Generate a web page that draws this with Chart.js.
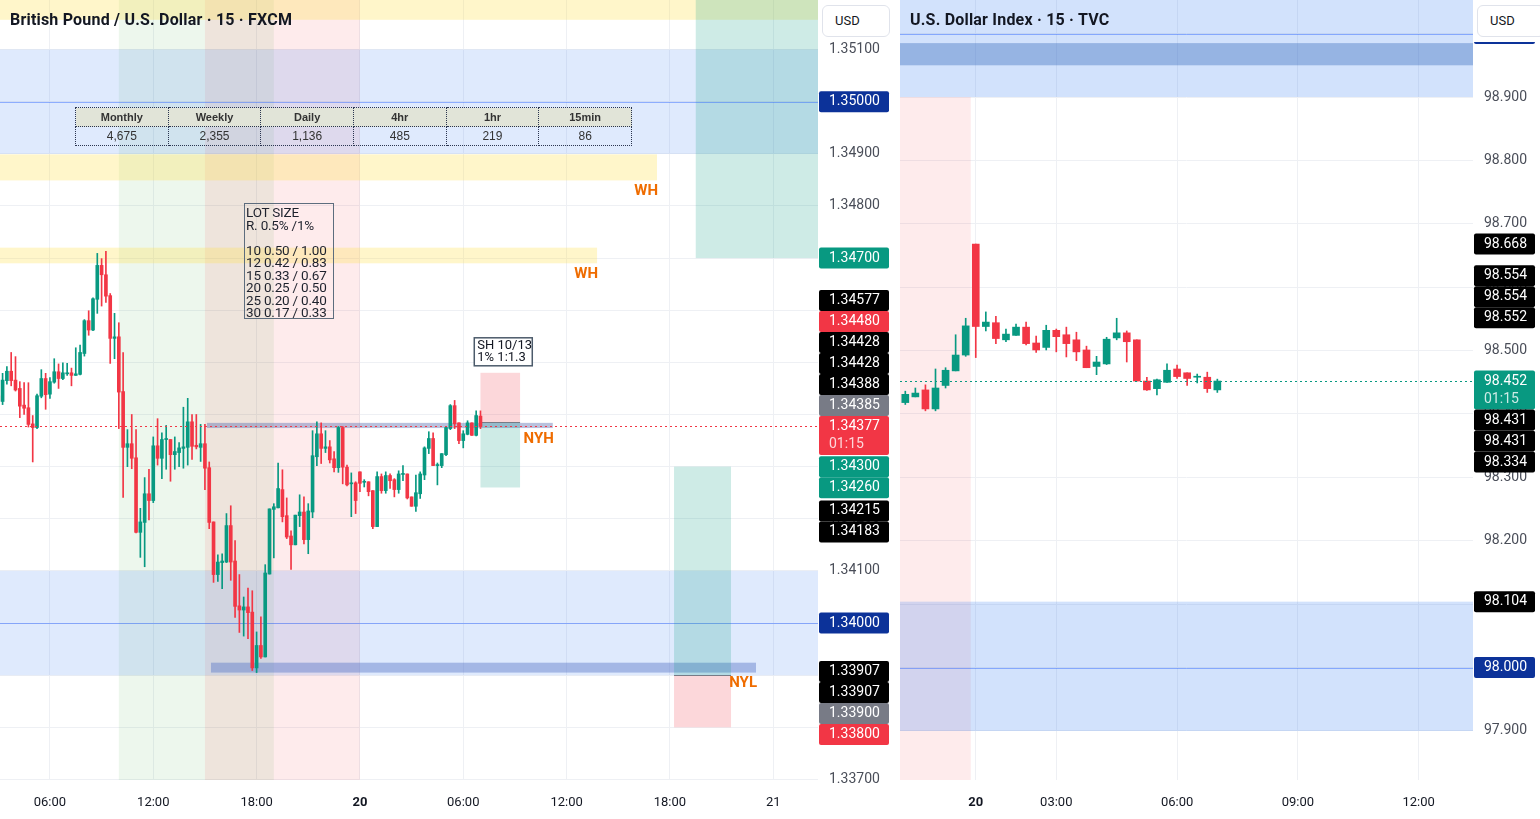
<!DOCTYPE html>
<html>
<head>
<meta charset="utf-8">
<script src="https://cdn.jsdelivr.net/npm/chart.js@4/dist/chart.umd.min.js"></script>
<style>
  body { margin:0; background:#fff; width:1540px; height:819px; overflow:hidden; position:relative; font-family:Roboto, 'Liberation Sans', sans-serif; }
  canvas { position:absolute; top:0; }
  #gbp { left:0; }
  #dxy { left:900px; }
  .ttl { position:absolute; top:10px; font-weight:bold; font-size:16px; letter-spacing:0.2px; color:#131722; white-space:nowrap; }
  .usd { position:absolute; top:5px; height:30px; line-height:30px; width:54px; padding-left:12px; border:1px solid #E0E3EB; border-radius:6px; background:#fff; font-size:13px; color:#131722; }
  #axhead { position:absolute; left:1474px; top:0; width:66px; height:42px; background:#fff; }
  #tf { position:absolute; left:75px; top:107px; width:557px; border-collapse:collapse; table-layout:fixed; font-family:'Liberation Sans', Arial, sans-serif; color:#333; }
  #tf td { height:18px; border:1px dotted #2a3550; text-align:center; padding:0; font-size:12px; }
  #tf tr:first-child td { background:#E1E4D8; font-weight:bold; font-size:11px; }
  #lot { position:absolute; left:244px; top:203px; width:87px; height:112px; border:1px solid #5d6d7e; font-size:13.5px; line-height:12.5px; color:#1e222d; padding:2px 0 0 1px; white-space:pre; letter-spacing:-0.2px; }
</style>
</head>
<body>
<canvas id="gbp" width="900" height="819"></canvas>
<canvas id="dxy" width="640" height="819"></canvas>
<div id="axhead"></div>
<div class="ttl" style="left:10px">British Pound / U.S. Dollar · 15 · FXCM</div>
<div class="ttl" style="left:910px">U.S. Dollar Index · 15 · TVC</div>
<div class="usd" style="left:822px">USD</div>
<div class="usd" style="left:1477px">USD</div>
<table id="tf"></table>
<div id="lot"></div>
<script>
// ---- GBPUSD 15m, first bar 19th 03:00 ----
const gbpFirstHour = 3;
const gbpOpen = [1.34436,1.34425,1.34465,1.34483,1.34466,1.34450,1.34418,1.34413,1.34382,1.34375,
1.34435,1.34469,1.34439,1.34462,1.34482,1.34469,1.34478,1.34480,1.34475,1.34477,
1.34517,1.34580,1.34562,1.34621,1.34686,1.34668,1.34628,1.34546,1.34549,1.34444,
1.34337,1.34344,1.34317,1.34174,1.34193,1.34248,1.34235,1.34340,1.34316,1.34352,
1.34352,1.34323,1.34327,1.34335,1.34337,1.34386,1.34341,1.34337,1.34344,1.34298,
1.34194,1.34093,1.34116,1.34117,1.34187,1.34119,1.34033,1.34025,1.34031,1.34021,
1.33914,1.33957,1.33935,1.34094,1.34218,1.34221,1.34256,1.34206,1.34167,1.34150,
1.34206,1.34213,1.34160,1.34213,1.34319,1.34363,1.34335,1.34338,1.34315,1.34298,
1.34375,1.34299,1.34267,1.34269,1.34290,1.34270,1.34271,1.34254,1.34185,1.34281,
1.34254,1.34283,1.34275,1.34256,1.34285,1.34286,1.34242,1.34224,1.34248,1.34284,
1.34335,1.34354,1.34302,1.34302,1.34323,1.34373,1.34417,1.34384,1.34350,1.34362,
1.34384,1.34360,1.34397];
const gbpHigh = [1.34441,1.34479,1.34492,1.34519,1.34511,1.34463,1.34461,1.34461,1.34398,1.34439,
1.34486,1.34479,1.34471,1.34507,1.34497,1.34499,1.34498,1.34489,1.34528,1.34533,
1.34582,1.34599,1.34624,1.34709,1.34699,1.34713,1.34632,1.34594,1.34576,1.34519,
1.34371,1.34400,1.34371,1.34220,1.34279,1.34295,1.34357,1.34392,1.34365,1.34379,
1.34352,1.34357,1.34346,1.34414,1.34431,1.34400,1.34400,1.34381,1.34381,1.34309,
1.34194,1.34131,1.34133,1.34210,1.34225,1.34158,1.34093,1.34050,1.34067,1.34062,
1.33983,1.34012,1.34112,1.34219,1.34229,1.34307,1.34294,1.34240,1.34177,1.34207,
1.34246,1.34242,1.34229,1.34369,1.34386,1.34384,1.34369,1.34350,1.34329,1.34377,
1.34377,1.34303,1.34288,1.34271,1.34290,1.34275,1.34271,1.34254,1.34290,1.34286,
1.34290,1.34286,1.34277,1.34292,1.34302,1.34286,1.34242,1.34284,1.34290,1.34338,
1.34367,1.34365,1.34307,1.34325,1.34377,1.34419,1.34427,1.34384,1.34369,1.34388,
1.34384,1.34407,1.34407];
const gbpLow = [1.34421,1.34419,1.34458,1.34455,1.34445,1.34394,1.34400,1.34376,1.34309,1.34373,
1.34432,1.34410,1.34431,1.34460,1.34450,1.34467,1.34475,1.34455,1.34475,1.34476,
1.34512,1.34552,1.34561,1.34594,1.34608,1.34615,1.34498,1.34507,1.34373,1.34241,
1.34300,1.34296,1.34173,1.34126,1.34108,1.34198,1.34231,1.34303,1.34277,1.34295,
1.34272,1.34295,1.34300,1.34297,1.34303,1.34314,1.34334,1.34310,1.34256,1.34181,
1.34078,1.34080,1.34066,1.34116,1.34082,1.34011,1.33982,1.33975,1.33970,1.33909,
1.33905,1.33932,1.33935,1.34094,1.34125,1.34221,1.34194,1.34162,1.34103,1.34150,
1.34185,1.34152,1.34133,1.34202,1.34302,1.34306,1.34327,1.34307,1.34290,1.34289,
1.34267,1.34263,1.34204,1.34210,1.34252,1.34261,1.34244,1.34181,1.34185,1.34249,
1.34249,1.34258,1.34242,1.34249,1.34273,1.34238,1.34224,1.34214,1.34239,1.34275,
1.34325,1.34302,1.34265,1.34298,1.34321,1.34371,1.34373,1.34344,1.34336,1.34361,
1.34360,1.34359,1.34373];
const gbpClose = [1.34426,1.34466,1.34483,1.34465,1.34447,1.34416,1.34412,1.34381,1.34375,1.34436,
1.34469,1.34438,1.34463,1.34482,1.34469,1.34480,1.34480,1.34475,1.34478,1.34519,
1.34580,1.34562,1.34622,1.34686,1.34668,1.34627,1.34546,1.34549,1.34443,1.34337,
1.34344,1.34316,1.34174,1.34194,1.34248,1.34235,1.34340,1.34316,1.34352,1.34353,
1.34323,1.34329,1.34336,1.34338,1.34386,1.34339,1.34338,1.34344,1.34297,1.34193,
1.34093,1.34117,1.34119,1.34187,1.34117,1.34032,1.34025,1.34031,1.34020,1.33914,
1.33957,1.33935,1.34096,1.34219,1.34223,1.34258,1.34204,1.34165,1.34150,1.34207,
1.34213,1.34160,1.34215,1.34321,1.34363,1.34335,1.34338,1.34313,1.34298,1.34375,
1.34299,1.34265,1.34269,1.34235,1.34268,1.34271,1.34252,1.34185,1.34281,1.34254,
1.34283,1.34273,1.34256,1.34286,1.34287,1.34240,1.34224,1.34250,1.34286,1.34336,
1.34354,1.34302,1.34304,1.34325,1.34375,1.34417,1.34382,1.34350,1.34363,1.34384,
1.34360,1.34398,1.34377];
const gbpTickHours = [6, 12, 18, 24, 30, 36, 42, 48];
const gbpTickLabels = ['06:00','12:00','18:00','20','06:00','12:00','18:00','21'];
const gbpPriceTicks = [1.337,1.338,1.339,1.340,1.341,1.342,1.343,1.344,1.345,1.346,1.347,1.348,1.349,1.350,1.351];
const gbpBadgePrices = [1.35000,1.34700,1.34577,1.34480,1.34428,1.34428,1.34388,1.34385,1.34377,1.34300,1.34260,1.34215,1.34183,1.34000,1.33907,1.33907,1.33900,1.33800];
const gbpBadgeKinds  = ['round','target','level','stop','level','level','level','entry','lastDown','target','target','level','level','round','level','level','entry','stop'];

// ---- DXY 15m, bars by index ----
const dxyOpen  = [98.418,98.427,98.438,98.408,98.445,98.468,98.493,98.668,98.538,98.544,98.517,98.524,98.537,98.512,98.505,98.532,98.525,98.517,98.501,98.475,98.479,98.520,98.528,98.517,98.452,98.440,98.450,98.471,98.465,98.458,98.458,98.438];
const dxyHigh  = [98.436,98.441,98.446,98.471,98.473,98.525,98.551,98.668,98.561,98.554,98.534,98.542,98.545,98.523,98.540,98.534,98.537,98.529,98.507,98.491,98.521,98.551,98.531,98.517,98.458,98.455,98.479,98.477,98.465,98.463,98.466,98.455];
const dxyLow   = [98.415,98.427,98.405,98.405,98.441,98.468,98.491,98.489,98.531,98.511,98.514,98.524,98.509,98.497,98.501,98.498,98.490,98.484,98.473,98.462,98.478,98.517,98.482,98.452,98.437,98.430,98.450,98.456,98.445,98.449,98.434,98.434];
const dxyClose = [98.431,98.433,98.408,98.441,98.469,98.493,98.539,98.538,98.545,98.519,98.526,98.537,98.511,98.501,98.532,98.522,98.511,98.498,98.473,98.482,98.518,98.528,98.514,98.452,98.438,98.454,98.469,98.459,98.456,98.459,98.440,98.452];
const dxyTickBars = [7, 15, 27, 39, 51];
const dxyTickLabels = ['20','03:00','06:00','09:00','12:00'];
const dxyPriceTicks = [97.9,98.0,98.1,98.2,98.3,98.4,98.5,98.6,98.7,98.8,98.9,99.0];
const dxyBadgePrices = [99.000,98.668,98.554,98.554,98.552,98.452,98.431,98.431,98.334,98.104,98.000];
const dxyBadgeKinds  = ['round','level','level','level','level','lastUp','level','level','level','level','round'];

// table + lot size note
const tfNames  = ['Monthly','Weekly','Daily','4hr','1hr','15min'];
const tfValues = ['4,675','2,355','1,136','485','219','86'];
const lotStops = [10, 12, 15, 20, 25, 30];
const lotHalf  = ['0.50','0.42','0.33','0.25','0.20','0.17'];
const lotFull  = ['1.00','0.83','0.67','0.50','0.40','0.33'];
const countdown = '01:15';

// drawings (time in hours from 19th 00:00 / bar index, prices)
const gbpZones = [
  { from:10, to:19, style:'london' },
  { from:15, to:24, style:'ny' },
  { low:1.349, high:1.351, style:'zone' },
  { low:1.339, high:1.341, style:'zone' },
  { low:1.35157, style:'weekly' },
  { to:41.25, low:1.34849, high:1.34899, style:'weekly' },
  { to:37.77, low:1.3469, high:1.3472, style:'weekly' },
  { from:43.5, low:1.347, style:'tp' },
  { from:15.12, to:35.2, low:1.34374, high:1.34384, style:'nyh' },
  { from:15.35, to:47.0, low:1.33905, high:1.33924, style:'nyl' }
];
const gbpRoundLines = [1.35, 1.34];
const gbpLevelTags = [
  { text:'WH', at:41.25, price:1.34849 },
  { text:'WH', at:37.77, price:1.3469 },
  { text:'NYH', at:35.2, price:1.34374 },
  { text:'NYL', at:47.0, price:1.33905 }
];
const gbpTrades = [
  { from:31.0, to:33.3, entry:1.34385, stop:1.3448, target:1.3426, note:['SH 10/13','1% 1:1.3'] },
  { from:42.24, to:45.55, entry:1.339, stop:1.338, target:1.343 }
];
const dxyZones = [
  { from:-1, to:6.5, high:98.9, style:'ny' },
  { low:98.9, style:'zone2' },
  { low:98.95, high:98.985, style:'stripe' },
  { low:97.9, high:98.104, style:'zone2' }
];
const dxyRoundLines = [99.0, 98.0];

const UP = '#089981', DOWN = '#F23645';
const FILL = {
  london:'rgba(76,175,80,0.10)', ny:'rgba(242,54,69,0.10)',
  zone:'rgba(66,133,244,0.17)', zone2:'rgba(66,133,244,0.24)', stripe:'rgba(60,110,190,0.40)',
  weekly:'rgba(255,225,80,0.30)', tp:'rgba(8,153,129,0.20)',
  nyh:'rgba(80,100,170,0.40)', nyl:'rgba(90,120,200,0.45)'
};
const BADGE = { round:'#0C3299', target:UP, level:'#000000', stop:DOWN, entry:'#787B86', lastDown:DOWN, lastUp:UP };
const FONT = "Roboto, 'Liberation Sans', sans-serif";
Chart.defaults.font.family = FONT;

// build table and note
document.getElementById('tf').innerHTML =
  '<tr>' + tfNames.map(n => `<td>${n}</td>`).join('') + '</tr>' +
  '<tr>' + tfValues.map(v => `<td>${v}</td>`).join('') + '</tr>';
document.getElementById('lot').textContent =
  ['LOT SIZE', 'R. 0.5% /1%', ''].concat(lotStops.map((s, i) => `${s} ${lotHalf[i]} / ${lotFull[i]}`)).join('\n');

function candleSets(xs, o, h, l, c, bodyW) {
  const col = xs.map((_, i) => c[i] >= o[i] ? UP : DOWN);
  return [
    { data: xs.map((x, i) => ({ x, y: [o[i], c[i]] })), backgroundColor: col, barThickness: bodyW, minBarLength: 1, grouped: false, order: 0 },
    { data: xs.map((x, i) => ({ x, y: [l[i], h[i]] })), backgroundColor: col, barThickness: 1, grouped: false, order: 1 }
  ];
}

function overlay(o) {
  return {
    id: 'overlay',
    beforeDatasetsDraw(chart) {
      const { ctx, chartArea: a, scales: { x, y } } = chart;
      ctx.save();
      ctx.beginPath(); ctx.rect(a.left, a.top, a.right - a.left, a.bottom - a.top); ctx.clip();
      o.zones.forEach(z => {
        const x0 = z.from == null ? a.left - 5 : x.getPixelForValue(z.from);
        const x1 = z.to == null ? a.right + 5 : x.getPixelForValue(z.to);
        const y0 = z.high == null ? a.top - 5 : y.getPixelForValue(z.high);
        const y1 = z.low == null ? a.bottom + 5 : y.getPixelForValue(z.low);
        ctx.fillStyle = FILL[z.style];
        ctx.fillRect(x0, y0, x1 - x0, y1 - y0);
      });
      ctx.strokeStyle = 'rgba(41,98,255,0.45)'; ctx.lineWidth = 1;
      o.lines.forEach(p => {
        const py = Math.round(y.getPixelForValue(p)) + 0.5;
        ctx.beginPath(); ctx.moveTo(a.left, py); ctx.lineTo(a.right, py); ctx.stroke();
      });
      (o.trades || []).forEach(t => {
        const x0 = x.getPixelForValue(t.from), x1 = x.getPixelForValue(t.to);
        const ye = y.getPixelForValue(t.entry), ys = y.getPixelForValue(t.stop), yt = y.getPixelForValue(t.target);
        ctx.fillStyle = 'rgba(242,54,69,0.2)'; ctx.fillRect(x0, Math.min(ye, ys), x1 - x0, Math.abs(ys - ye));
        ctx.fillStyle = 'rgba(8,153,129,0.2)'; ctx.fillRect(x0, Math.min(ye, yt), x1 - x0, Math.abs(yt - ye));
        ctx.strokeStyle = '#787B86';
        ctx.beginPath(); ctx.moveTo(x0, Math.round(ye) + 0.5); ctx.lineTo(x1, Math.round(ye) + 0.5); ctx.stroke();
      });
      ctx.restore();
    },
    afterDatasetsDraw(chart) {
      const { ctx, chartArea: a, scales: { x, y } } = chart;
      ctx.save();
      // last price dotted line
      const py = Math.round(y.getPixelForValue(o.last)) + 0.5;
      ctx.strokeStyle = o.lastColor; ctx.setLineDash([2, 3]); ctx.lineWidth = 1;
      ctx.beginPath(); ctx.moveTo(a.left, py); ctx.lineTo(a.right, py); ctx.stroke();
      ctx.setLineDash([]);
      // level tags
      ctx.font = 'bold 15px ' + FONT; ctx.fillStyle = '#EF6C00';
      ctx.textAlign = 'right'; ctx.textBaseline = 'middle';
      (o.tags || []).forEach(t => ctx.fillText(t.text, x.getPixelForValue(t.at) + 1, y.getPixelForValue(t.price) + 11));
      // trade notes
      (o.trades || []).filter(t => t.note).forEach(t => {
        const cx = (x.getPixelForValue(t.from) + x.getPixelForValue(t.to)) / 2 + 3;
        const top = y.getPixelForValue(Math.max(t.stop, t.target)) - 35;
        ctx.fillStyle = '#fff'; ctx.fillRect(cx - 29, top, 58, 28);
        ctx.strokeStyle = '#4C5B6B'; ctx.lineWidth = 1.5; ctx.strokeRect(cx - 29, top, 58, 28);
        ctx.fillStyle = '#131722'; ctx.font = '13px ' + FONT; ctx.textAlign = 'left';
        ctx.fillText(t.note[0], cx - 26, top + 8);
        ctx.fillText(t.note[1], cx - 26, top + 20);
      });
      ctx.restore();
    },
    afterDraw(chart) {
      const { ctx, chartArea: a, scales: { y } } = chart;
      const H = 21;
      const items = o.badgePrices.map((p, i) => ({ p, kind: o.badgeKinds[i], nat: y.getPixelForValue(p) }))
        .sort((m, n) => n.p - m.p);
      const ai = items.findIndex(b => b.kind.startsWith('last'));
      const anc = items[ai];
      anc.top = anc.nat - H / 2; anc.h = H * 2 - 3;
      let edge = anc.top;
      for (let i = ai - 1; i >= 0; i--) {
        const c = Math.min(items[i].nat, edge - H / 2);
        items[i].top = c - H / 2; items[i].h = H; edge = items[i].top;
      }
      edge = anc.top + anc.h;
      for (let i = ai + 1; i < items.length; i++) {
        const c = Math.max(items[i].nat, edge + H / 2);
        items[i].top = c - H / 2; items[i].h = H; edge = items[i].top + H;
      }
      ctx.save();
      ctx.font = '14px ' + FONT; ctx.textAlign = 'left'; ctx.textBaseline = 'middle';
      items.forEach(b => {
        ctx.fillStyle = BADGE[b.kind];
        ctx.beginPath(); ctx.roundRect(a.right + 1, b.top, o.badgeW, b.h, 2); ctx.fill();
        ctx.fillStyle = '#fff';
        ctx.fillText(b.p.toFixed(o.digits), a.right + 11, b.top + H / 2);
        if (b.h > H) { ctx.fillStyle = 'rgba(255,255,255,0.8)'; ctx.fillText(countdown, a.right + 11, b.top + H / 2 + 18); }
      });
      ctx.restore();
    }
  };
}

function makeChart(id, c) {
  return new Chart(document.getElementById(id), {
    type: 'bar',
    data: { datasets: c.sets },
    options: {
      animation: false, responsive: false,
      layout: { padding: 0, autoPadding: false },
      plugins: { legend: { display: false }, tooltip: { enabled: false } },
      scales: {
        x: {
          type: 'linear', min: c.xMin, max: c.xMax, offset: false,
          afterBuildTicks: s => { s.ticks = c.xTicks.map(v => ({ value: v })); },
          afterFit: s => { s.height = 39; s.paddingLeft = 0; s.paddingRight = 0; },
          ticks: {
            autoSkip: false, maxRotation: 0, padding: 15, color: '#131722',
            callback: (v, i) => c.xLabels[i],
            font: ctx => ({ family: FONT, size: 13, weight: ctx.tick && ctx.tick.value === c.xBold ? 'bold' : 'normal' })
          },
          grid: { color: '#EEF0F4', drawTicks: false, offset: false },
          border: { display: false }
        },
        y: {
          position: 'right', min: c.yMin, max: c.yMax,
          afterBuildTicks: s => { s.ticks = c.yTicks.map(v => ({ value: v })); },
          afterFit: s => { s.width = c.axisW; s.paddingTop = 0; s.paddingBottom = 0; },
          ticks: {
            padding: 11, color: '#4A4E59', font: { size: 14 },
            callback: v => v > c.yHideAbove ? '' : v.toFixed(c.digits)
          },
          grid: { color: '#EEF0F4', drawTicks: false },
          border: { display: false }
        }
      }
    },
    plugins: [overlay(c.ov)]
  });
}

const gbpTimes = gbpOpen.map((_, i) => gbpFirstHour + i * 0.25);
makeChart('gbp', {
  sets: candleSets(gbpTimes, gbpOpen, gbpHigh, gbpLow, gbpClose, 3),
  xMin: 3.1, xMax: 50.6, xTicks: gbpTickHours, xLabels: gbpTickLabels, xBold: 24,
  yMin: 1.33699, yMax: 1.35195, yTicks: gbpPriceTicks, digits: 5, axisW: 82, yHideAbove: 9,
  ov: { zones: gbpZones, lines: gbpRoundLines, tags: gbpLevelTags, trades: gbpTrades,
        last: gbpClose[gbpClose.length - 1], lastColor: DOWN,
        badgePrices: gbpBadgePrices, badgeKinds: gbpBadgeKinds, badgeW: 70, digits: 5 }
});

const dxyBars = dxyOpen.map((_, i) => i);
makeChart('dxy', {
  sets: candleSets(dxyBars, dxyOpen, dxyHigh, dxyLow, dxyClose, 7),
  xMin: -0.527, xMax: 56.4, xTicks: dxyTickBars, xLabels: dxyTickLabels, xBold: 7,
  yMin: 97.8227, yMax: 99.053, yTicks: dxyPriceTicks, digits: 3, axisW: 67, yHideAbove: 98.95,
  ov: { zones: dxyZones, lines: dxyRoundLines,
        last: dxyClose[dxyClose.length - 1], lastColor: UP,
        badgePrices: dxyBadgePrices, badgeKinds: dxyBadgeKinds, badgeW: 61, digits: 3 }
});
</script>
</body>
</html>
